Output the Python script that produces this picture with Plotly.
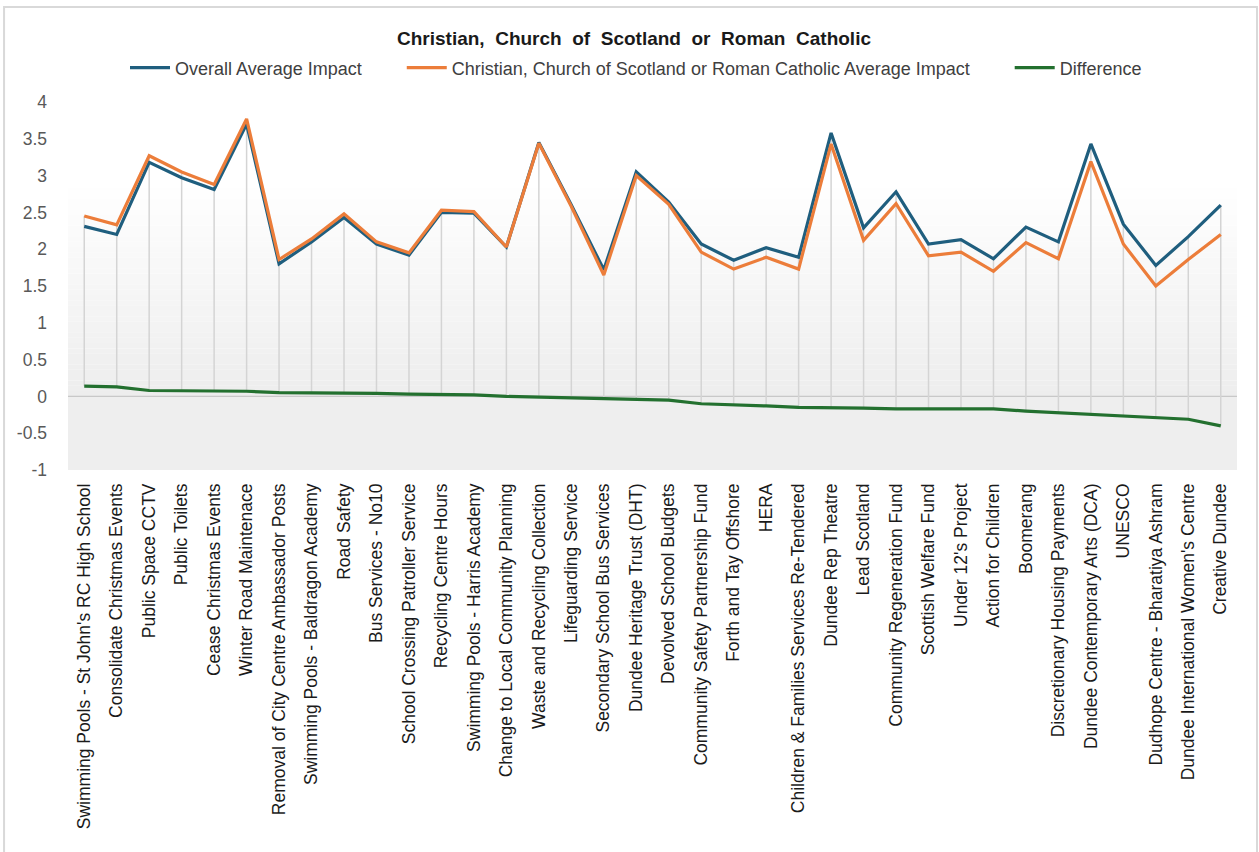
import plotly.graph_objects as go

categories = [
    "Swimming Pools - St John's RC High School",
    "Consolidate Christmas Events",
    "Public Space CCTV",
    "Public Toilets",
    "Cease Christmas Events",
    "Winter Road Maintenace",
    "Removal of City Centre Ambassador Posts",
    "Swimming Pools - Baldragon Academy",
    "Road Safety",
    "Bus Services - No10",
    "School Crossing Patroller Service",
    "Recycling Centre Hours",
    "Swimming Pools - Harris Academy",
    "Change to Local Community Planning",
    "Waste and Recycling Collection",
    "Lifeguarding Service",
    "Secondary School Bus Services",
    "Dundee Heritage Trust (DHT)",
    "Devolved School Budgets",
    "Community Safety Partnership Fund",
    "Forth and Tay Offshore",
    "HERA",
    "Children & Families Services Re-Tendered",
    "Dundee Rep Theatre",
    "Lead Scotland",
    "Community Regeneration Fund",
    "Scottish Welfare Fund",
    "Under 12's Project",
    "Action for Children",
    "Boomerang",
    "Discretionary Housing Payments",
    "Dundee Contemporary Arts (DCA)",
    "UNESCO",
    "Dudhope Centre - Bharatiya Ashram",
    "Dundee International Women's Centre",
    "Creative Dundee",
]

overall_avg = [2.31, 2.20, 3.18, 2.97, 2.81, 3.70, 1.80, 2.10, 2.43, 2.07,
               1.92, 2.50, 2.49, 2.03, 3.45, 2.60, 1.72, 3.05, 2.64, 2.07,
               1.85, 2.02, 1.89, 3.58, 2.29, 2.78, 2.07, 2.13, 1.87, 2.30,
               2.10, 3.43, 2.34, 1.78, 2.17, 2.60]

christian_avg = [2.45, 2.33, 3.27, 3.05, 2.88, 3.77, 1.86, 2.14, 2.48, 2.10,
                 1.95, 2.53, 2.51, 2.03, 3.44, 2.58, 1.65, 3.00, 2.61, 1.96,
                 1.73, 1.89, 1.73, 3.43, 2.12, 2.62, 1.91, 1.96, 1.70, 2.09,
                 1.87, 3.19, 2.07, 1.50, 1.86, 2.20]

difference = [0.14, 0.13, 0.08, 0.08, 0.07, 0.07, 0.05, 0.05, 0.05, 0.04,
              0.03, 0.03, 0.02, 0.00, -0.01, -0.02, -0.04, -0.04, -0.05, -0.10,
              -0.11, -0.13, -0.15, -0.15, -0.16, -0.17, -0.17, -0.17, -0.17, -0.20,
              -0.22, -0.24, -0.27, -0.28, -0.31, -0.40]

y_tick_vals = [-1, -0.5, 0, 0.5, 1, 1.5, 2, 2.5, 3, 3.5, 4]
y_tick_text = ["-1", "-0.5", "0", "0.5", "1", "1.5", "2", "2.5", "3", "3.5", "4"]

title_text = "Christian, Church of Scotland or Roman Catholic"
series_names = ["Overall Average Impact",
                "Christian, Church of Scotland or Roman Catholic Average Impact",
                "Difference"]

FONT = "Liberation Sans, Arial, sans-serif"
BLUE = "#1f5e7e"
ORANGE = "#ec7d3a"
GREEN = "#23702f"
NB = "\u00a0"

fig = go.Figure()

# High-low lines: from the lowest to the highest series value at each category
hl_x, hl_y = [], []
for c, a, b, d in zip(categories, overall_avg, christian_avg, difference):
    hl_x += [c, c, None]
    hl_y += [min(a, b, d), max(a, b, d), None]
fig.add_trace(go.Scatter(x=hl_x, y=hl_y, mode="lines",
                         line=dict(color="#d4d4d4", width=1.5),
                         showlegend=False, hoverinfo="skip"))

legend_pad = NB * 7
fig.add_trace(go.Scatter(x=categories, y=overall_avg, mode="lines",
                         name=series_names[0] + legend_pad,
                         line=dict(color=BLUE, width=3.2)))
fig.add_trace(go.Scatter(x=categories, y=christian_avg, mode="lines",
                         name=series_names[1] + legend_pad,
                         line=dict(color=ORANGE, width=3.2)))
fig.add_trace(go.Scatter(x=categories, y=difference, mode="lines",
                         name=series_names[2],
                         line=dict(color=GREEN, width=3.2)))

# Background: gradient above zero, flat grey below zero
shapes = []
n_strips = 40
top_val = 2.9
for i in range(n_strips):
    y0 = top_val * i / n_strips
    y1 = top_val * (i + 1) / n_strips
    t = (i + 0.5) / n_strips
    g = int(round(237 + (255 - 237) * t))
    shapes.append(dict(type="rect", xref="paper", yref="y", x0=0, x1=1,
                       y0=y0, y1=y1, fillcolor=f"rgb({g},{g},{g})",
                       line=dict(width=0), layer="below"))
shapes.append(dict(type="rect", xref="paper", yref="y", x0=0, x1=1,
                   y0=-1, y1=0, fillcolor="rgb(238,238,238)",
                   line=dict(width=0), layer="below"))
# zero line
shapes.append(dict(type="line", xref="paper", yref="y", x0=0, x1=1, y0=0, y1=0,
                   line=dict(color="#c8c8c8", width=1.2), layer="below"))
# outer frame of the chart
shapes.append(dict(type="rect", xref="paper", yref="paper",
                   x0=-0.0547, x1=1.0171, y0=-1.1, y1=1.258,
                   line=dict(color="#d9d9d9", width=2), fillcolor="rgba(0,0,0,0)",
                   layer="below"))

title_display = title_text.replace(" ", " " + NB)

fig.update_layout(
    width=1259, height=852,
    margin=dict(l=68, r=22, t=102, b=382),
    paper_bgcolor="white",
    plot_bgcolor="white",
    font=dict(family=FONT, size=15, color="#404040"),
    title=dict(text=f"<b>{title_display}</b>", x=634 / 1259, xanchor="center",
               y=1 - 38 / 852, yanchor="middle",
               font=dict(family=FONT, size=19, color="#1a1a1a")),
    legend=dict(orientation="h", x=(636 - 68) / 1169, xanchor="center",
                y=1 + (102 - 68) / 368, yanchor="middle",
                font=dict(family=FONT, size=18, color="#404040"),
                bgcolor="rgba(0,0,0,0)", itemwidth=40,
                traceorder="normal"),
    shapes=shapes,
    showlegend=True,
)

fig.update_xaxes(type="category", categoryorder="array", categoryarray=categories,
                 range=[-0.5, len(categories) - 0.5],
                 tickangle=-90, showgrid=False, zeroline=False, showline=False,
                 ticks="", ticklabelstandoff=9,
                 tickfont=dict(family=FONT, size=17.5, color="#1a1a1a"))
fig.update_yaxes(range=[-1, 4], tickvals=y_tick_vals, ticktext=y_tick_text,
                 showgrid=False, zeroline=False, showline=False, ticks="",
                 ticklabelstandoff=20,
                 tickfont=dict(family=FONT, size=17.5, color="#595959"))

fig.write_html("out.html", config={"displayModeBar": False},
               post_script="document.body.style.margin='0px';")
